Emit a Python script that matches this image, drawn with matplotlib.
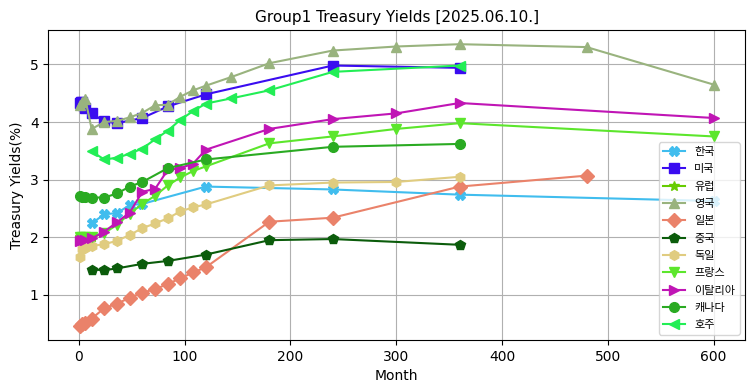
import matplotlib
matplotlib.use("Agg")
import matplotlib.pyplot as plt

plt.rcParams['font.family'] = ['DejaVu Sans', 'Noto Sans CJK KR']

# month -> yield(%) per country
kr_x = [12, 24, 36, 48, 60, 120, 240, 360, 600]
kr_y = [2.24, 2.40, 2.42, 2.56, 2.58, 2.88, 2.83, 2.74, 2.63]

us_x = [1, 2, 3, 4, 6, 12, 24, 36, 60, 84, 120, 240, 360]
us_y = [4.33, 4.35, 4.34, 4.30, 4.24, 4.15, 4.01, 3.98, 4.07, 4.27, 4.48, 4.98, 4.94]

eu_x = [1, 3, 6, 12]
eu_y = [2.00, 2.00, 2.01, 2.00]

uk_x = [1, 3, 6, 12, 24, 36, 48, 60, 72, 84, 96, 108, 120, 144, 180, 240, 300, 360, 480, 600]
uk_y = [4.30, 4.35, 4.40, 3.88, 4.00, 4.02, 4.08, 4.16, 4.29, 4.30, 4.44, 4.55, 4.63, 4.78, 5.02, 5.24, 5.31, 5.35, 5.30, 4.65]

jp_x = [1, 3, 6, 12, 24, 36, 48, 60, 72, 84, 96, 108, 120, 180, 240, 360, 480]
jp_y = [0.46, 0.49, 0.52, 0.59, 0.77, 0.85, 0.95, 1.04, 1.10, 1.19, 1.29, 1.39, 1.48, 2.27, 2.34, 2.88, 3.07]

cn_x = [12, 24, 36, 60, 84, 120, 180, 240, 360]
cn_y = [1.44, 1.43, 1.46, 1.54, 1.59, 1.70, 1.95, 1.97, 1.87]

de_x = [1, 3, 6, 12, 24, 36, 48, 60, 72, 84, 96, 108, 120, 180, 240, 300, 360]
de_y = [1.66, 1.80, 1.82, 1.85, 1.88, 1.94, 2.04, 2.16, 2.24, 2.33, 2.45, 2.52, 2.57, 2.90, 2.95, 2.96, 3.05]

fr_x = [1, 3, 6, 12, 24, 36, 48, 60, 72, 84, 96, 108, 120, 180, 240, 300, 360, 600]
fr_y = [2.00, 2.00, 2.00, 2.01, 2.07, 2.22, 2.41, 2.58, 2.72, 2.90, 3.04, 3.15, 3.23, 3.63, 3.75, 3.88, 3.98, 3.75]

it_x = [1, 3, 6, 12, 24, 36, 48, 60, 72, 84, 96, 108, 120, 180, 240, 300, 360, 600]
it_y = [1.94, 1.95, 1.96, 1.98, 2.10, 2.26, 2.43, 2.79, 2.84, 3.17, 3.20, 3.28, 3.52, 3.88, 4.05, 4.15, 4.33, 4.07]

ca_x = [1, 3, 6, 12, 24, 36, 48, 60, 84, 120, 240, 360]
ca_y = [2.71, 2.70, 2.70, 2.69, 2.69, 2.76, 2.88, 2.96, 3.20, 3.35, 3.57, 3.62]

au_x = [12, 24, 36, 48, 60, 72, 84, 96, 108, 120, 144, 180, 240, 360]
au_y = [3.49, 3.35, 3.38, 3.45, 3.54, 3.70, 3.85, 4.04, 4.19, 4.32, 4.41, 4.55, 4.87, 4.98]

series = [
    ('한국', kr_x, kr_y, 'X', '#40bdee'),
    ('미국', us_x, us_y, 's', '#3a0cf0'),
    ('유럽', eu_x, eu_y, '*', '#66cc00'),
    ('영국', uk_x, uk_y, '^', '#99b37e'),
    ('일본', jp_x, jp_y, 'D', '#ea826a'),
    ('중국', cn_x, cn_y, 'p', '#0b5c0b'),
    ('독일', de_x, de_y, 'h', '#e0cc80'),
    ('프랑스', fr_x, fr_y, 'v', '#5ce62c'),
    ('이탈리아', it_x, it_y, '>', '#c015b5'),
    ('캐나다', ca_x, ca_y, 'o', '#2aaa22'),
    ('호주', au_x, au_y, '<', '#22ee55'),
]

fig, ax = plt.subplots(figsize=(7.55, 3.91), dpi=100)
fig.subplots_adjust(left=0.064, right=0.987, top=0.923, bottom=0.13)

for name, xs, ys, mk, col in series:
    ax.plot(xs, ys, marker=mk, color=col, label=name, linewidth=1.5, markersize=7)

ax.set_title('Group1 Treasury Yields [2025.06.10.]', fontsize=11)
ax.set_xlabel('Month')
ax.set_ylabel('Treasury Yields(%)')
ax.grid(True)
ax.legend(loc='lower right', prop={'family': ['Noto Sans CJK KR'], 'size': 8},
          labelspacing=0.66)

fig.savefig('out.png', dpi=100)
